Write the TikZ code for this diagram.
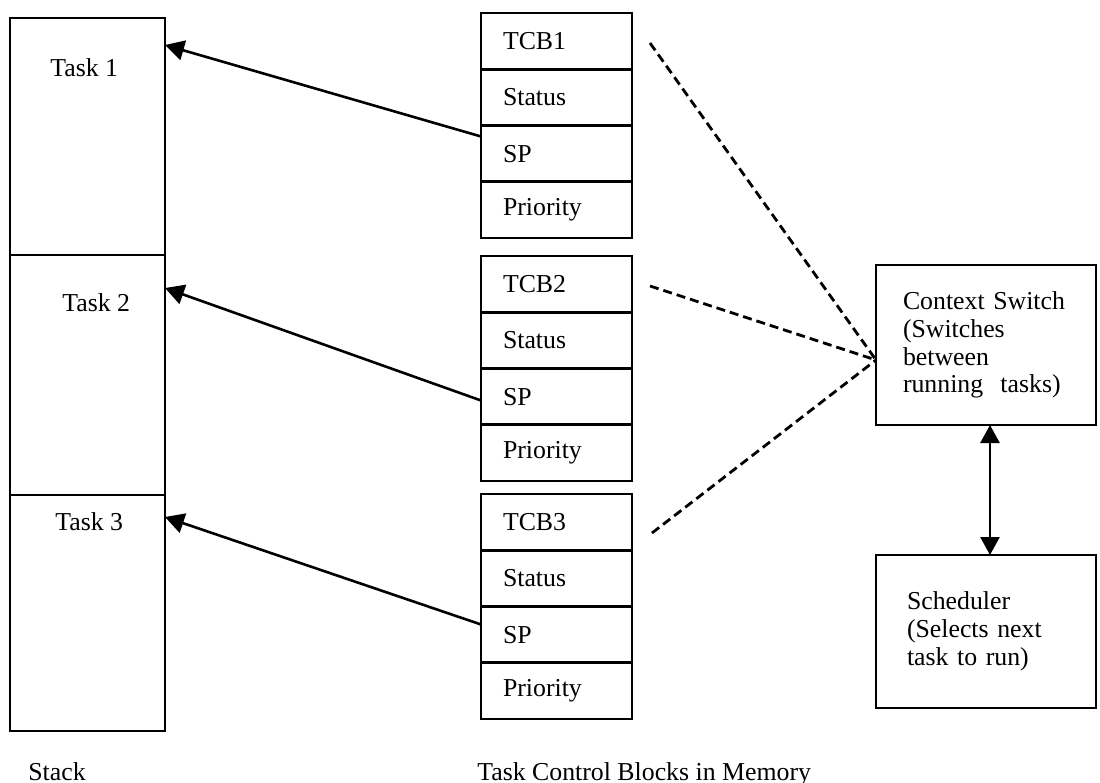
\documentclass[tikz,border=0pt]{standalone}
\usepackage{fontspec}
\setmainfont{Liberation Serif}
\usetikzlibrary{arrows.meta,calc}
\begin{document}
\begin{tikzpicture}[x=0.5pt,y=-0.5pt,
  font=\fontsize{12.9}{13.75}\selectfont,
  box/.style={draw,line width=1.3pt,inner sep=0pt,outer sep=0pt},
  row/.style={draw,line width=1.3pt,outer sep=0pt,minimum width=75.5pt,minimum height=28.125pt,inner ysep=0pt,inner xsep=11pt,text width=53.5pt,align=left},
  lbl/.style={inner sep=0pt,anchor=base west},
  ptr/.style={line width=1.3pt,-{Triangle[length=9.5pt,width=10pt]}},
  dline/.style={line width=1.4pt,dash pattern=on 4.5pt off 2.5pt},
  dbl/.style={line width=1.3pt,{Triangle[length=9pt,width=9.5pt]}-{Triangle[length=9pt,width=9.5pt]}}
]
\useasboundingbox (0,0) rectangle (1100,783);

% stack
\node[box,minimum width=77.5pt,minimum height=118.5pt] (task1) at (87.5,136.5) {};
\node[box,minimum width=77.5pt,minimum height=120pt] (task2) at (87.5,375) {};
\node[box,minimum width=77.5pt,minimum height=118pt] (task3) at (87.5,613) {};
\node[lbl] (t1) at (50,76) {Task 1};
\node[lbl] (t2) at (62,311) {Task 2};
\node[lbl] (t3) at (55,530) {Task 3};

% TCBs
\node[row] (h1) at (556.5,41.1) {TCB1};
\node[row,anchor=north] (s1) at (h1.south) {Status};
\node[row,anchor=north] (p1) at (s1.south) {SP};
\node[row,anchor=north] (r1) at (p1.south) {Priority};

\node[row] (h2) at (556.5,284.1) {TCB2};
\node[row,anchor=north] (s2) at (h2.south) {Status};
\node[row,anchor=north] (p2) at (s2.south) {SP};
\node[row,anchor=north] (r2) at (p2.south) {Priority};

\node[row] (h3) at (556.5,522.1) {TCB3};
\node[row,anchor=north] (s3) at (h3.south) {Status};
\node[row,anchor=north] (p3) at (s3.south) {SP};
\node[row,anchor=north] (r3) at (p3.south) {Priority};

% pointers
\draw[ptr] ($(p1.north west)+(0,11)$) -- ($(task1.north east)+(0,27)$);
\draw[ptr] ($(p2.north west)+(0,32)$) -- ($(task2.north east)+(0,33)$);
\draw[ptr] ($(p3.north west)+(0,18)$) -- ($(task3.north east)+(0,22)$);

% right side
\node[box,minimum width=110pt,minimum height=80pt,inner xsep=13.5pt,text width=83pt,align=left,
  font=\fontsize{12.9}{13.9}\selectfont] (cs) at (986,345)
  {Context Switch\\(Switches\\between\\running~ tasks)};
\node[box,minimum width=110pt,minimum height=76.5pt,inner xsep=15.5pt,text width=79pt,align=left,
  font=\fontsize{12.9}{14}\selectfont] (sch) at (986,631.5)
  {Scheduler\\(Selects next\\task to run)};

\coordinate (d1) at (650,43);
\coordinate (d2) at (650,286);
\coordinate (d3) at (652,533);
\coordinate (cv) at ($(cs.west)+(0,15)$);
\draw[dline] (d1) -- (cv);
\draw[dline] (d2) -- (cv);
\draw[dline] (d3) -- (cv);

\draw[dbl] ($(cs.south)+(4,0)$) -- ($(sch.north)+(4,0)$);

% captions
\node[lbl] (stk) at (28,780) {Stack};
\node[lbl] (tcbm) at (477,780) {Task Control Blocks in Memory};
\end{tikzpicture}
\end{document}
